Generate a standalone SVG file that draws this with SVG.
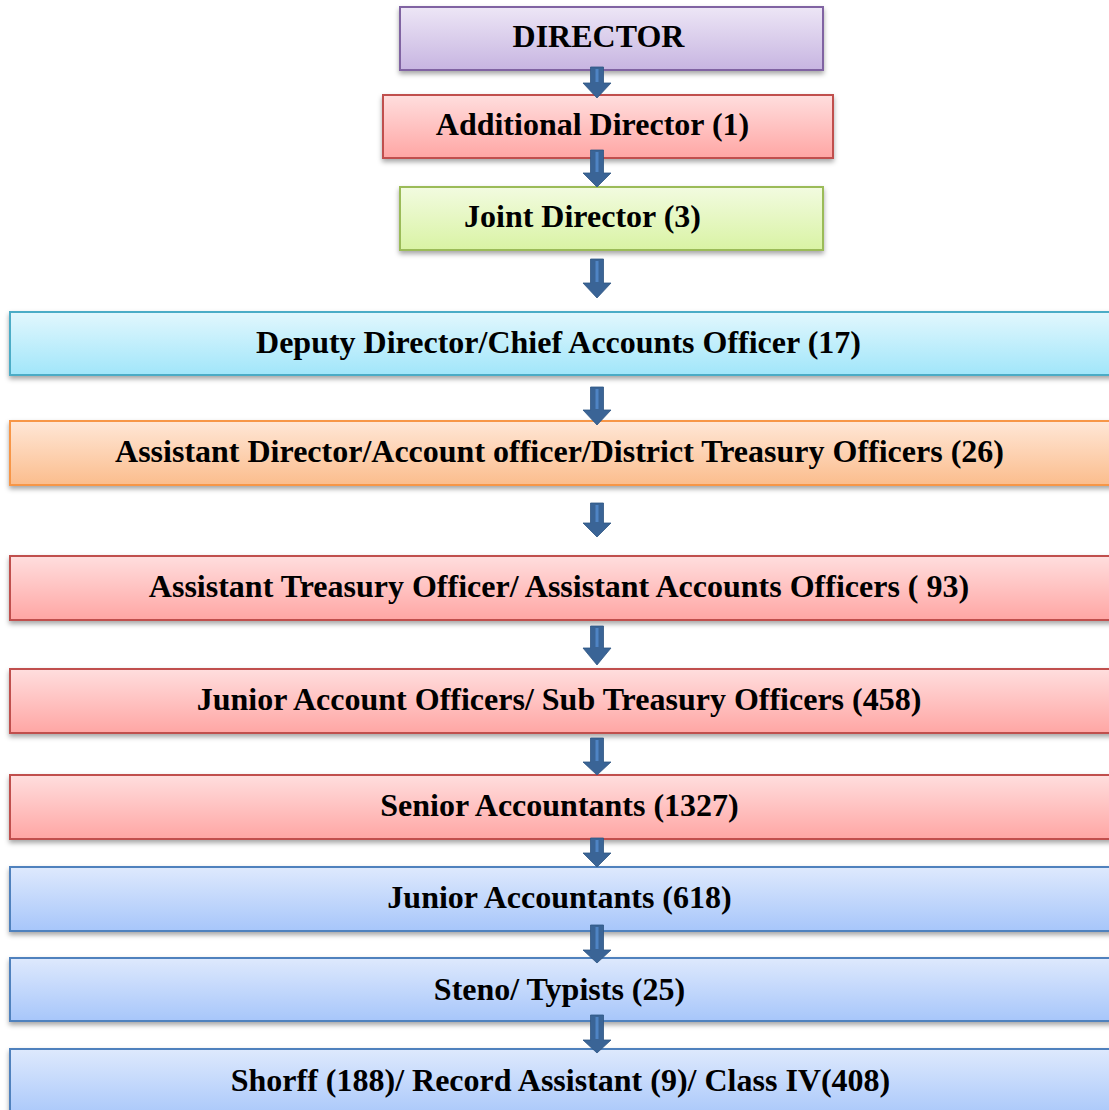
<svg xmlns="http://www.w3.org/2000/svg" width="1109" height="1110" viewBox="0 0 1109 1110">
<defs>
<linearGradient id="gPurple" x1="0" y1="0" x2="0" y2="1"><stop offset="0" stop-color="#ede6f6"/><stop offset="1" stop-color="#c7b5e1"/></linearGradient>
<linearGradient id="gRed" x1="0" y1="0" x2="0" y2="1"><stop offset="0" stop-color="#ffdede"/><stop offset="1" stop-color="#ffa6a4"/></linearGradient>
<linearGradient id="gGreen" x1="0" y1="0" x2="0" y2="1"><stop offset="0" stop-color="#f2fbe0"/><stop offset="1" stop-color="#d9f3a4"/></linearGradient>
<linearGradient id="gCyan" x1="0" y1="0" x2="0" y2="1"><stop offset="0" stop-color="#e2f7fd"/><stop offset="1" stop-color="#a1e6fa"/></linearGradient>
<linearGradient id="gOrange" x1="0" y1="0" x2="0" y2="1"><stop offset="0" stop-color="#ffe7d7"/><stop offset="1" stop-color="#fbbd8d"/></linearGradient>
<linearGradient id="gBlue" x1="0" y1="0" x2="0" y2="1"><stop offset="0" stop-color="#dee9fd"/><stop offset="1" stop-color="#a7c6fa"/></linearGradient>
<filter id="sh" x="-5%" y="-20%" width="110%" height="150%">
<feDropShadow dx="0" dy="3" stdDeviation="2.5" flood-color="#000" flood-opacity="0.35"/>
</filter>
</defs>
<style>
.box{stroke-width:2;filter:url(#sh)}
.purple{fill:url(#gPurple);stroke:#8064a2}
.red{fill:url(#gRed);stroke:#c0504d}
.green{fill:url(#gGreen);stroke:#9bbb59}
.cyan{fill:url(#gCyan);stroke:#4bacc6}
.orange{fill:url(#gOrange);stroke:#f79646}
.blue{fill:url(#gBlue);stroke:#4f81bd}
text{font-family:"Liberation Serif","Times New Roman",serif;font-weight:bold;font-size:32px;fill:#000;text-anchor:middle}
.arr{fill:#3a6496;stroke:#2f5583;stroke-width:0.8}
.stripe{fill:#4f84c4}
</style>
<rect width="1109" height="1110" fill="#fff"/>

<g id="n1"><rect class="box purple" x="400" y="7" width="423" height="63"/><text x="598.5" y="47">DIRECTOR</text></g>
<g id="n2"><rect class="box red" x="383" y="95" width="450" height="63"/><text x="592.5" y="135">Additional Director (1)</text></g>
<g id="n3"><rect class="box green" x="400" y="187" width="423" height="63"/><text x="582.5" y="227">Joint Director (3)</text></g>
<g id="n4"><rect class="box cyan" x="10" y="312" width="1110" height="63"/><text x="558.5" y="353">Deputy Director/Chief Accounts Officer (17)</text></g>
<g id="n5"><rect class="box orange" x="10" y="421" width="1110" height="64"/><text x="559.5" y="462">Assistant Director/Account officer/District Treasury Officers (26)</text></g>
<g id="n6"><rect class="box red" x="10" y="556" width="1110" height="64"/><text x="559" y="597">Assistant Treasury Officer/ Assistant Accounts Officers ( 93)</text></g>
<g id="n7"><rect class="box red" x="10" y="669" width="1110" height="64"/><text x="559" y="710">Junior Account Officers/ Sub Treasury Officers (458)</text></g>
<g id="n8"><rect class="box red" x="10" y="775" width="1110" height="64"/><text x="559.5" y="816">Senior Accountants (1327)</text></g>
<g id="n9"><rect class="box blue" x="10" y="867" width="1110" height="64"/><text x="559.5" y="908">Junior Accountants (618)</text></g>
<g id="n10"><rect class="box blue" x="10" y="958" width="1110" height="63"/><text x="559.5" y="1000">Steno/ Typists (25)</text></g>
<g id="n11"><rect class="box blue" x="10" y="1049" width="1110" height="70"/><text x="560.5" y="1091">Shorff (188)/ Record Assistant (9)/ Class IV(408)</text></g>

<g id="connectors">
<path class="arr" d="M590.5,67 H603.5 V83 H611 L597,98 L583,83 H590.5 Z"/><rect class="stripe" x="595.5" y="69" width="3" height="13"/>
<path class="arr" d="M590.5,150 H603.5 V173 H611 L597,187 L583,173 H590.5 Z"/><rect class="stripe" x="595.5" y="152" width="3" height="20"/>
<path class="arr" d="M590.5,259 H603.5 V283 H611 L597,298 L583,283 H590.5 Z"/><rect class="stripe" x="595.5" y="261" width="3" height="21"/>
<path class="arr" d="M590.5,387 H603.5 V410 H611 L597,425 L583,410 H590.5 Z"/><rect class="stripe" x="595.5" y="389" width="3" height="20"/>
<path class="arr" d="M590.5,503 H603.5 V523 H611 L597,537 L583,523 H590.5 Z"/><rect class="stripe" x="595.5" y="505" width="3" height="17"/>
<path class="arr" d="M590.5,626 H603.5 V648 H611 L597,665 L583,648 H590.5 Z"/><rect class="stripe" x="595.5" y="628" width="3" height="19"/>
<path class="arr" d="M590.5,738 H603.5 V762 H611 L597,775 L583,762 H590.5 Z"/><rect class="stripe" x="595.5" y="740" width="3" height="21"/>
<path class="arr" d="M590.5,838 H603.5 V853 H611 L597,867 L583,853 H590.5 Z"/><rect class="stripe" x="595.5" y="840" width="3" height="12"/>
<path class="arr" d="M590.5,925 H603.5 V950 H611 L597,963 L583,950 H590.5 Z"/><rect class="stripe" x="595.5" y="927" width="3" height="22"/>
<path class="arr" d="M590.5,1015 H603.5 V1040 H611 L597,1053 L583,1040 H590.5 Z"/><rect class="stripe" x="595.5" y="1017" width="3" height="22"/>
</g>
</svg>
